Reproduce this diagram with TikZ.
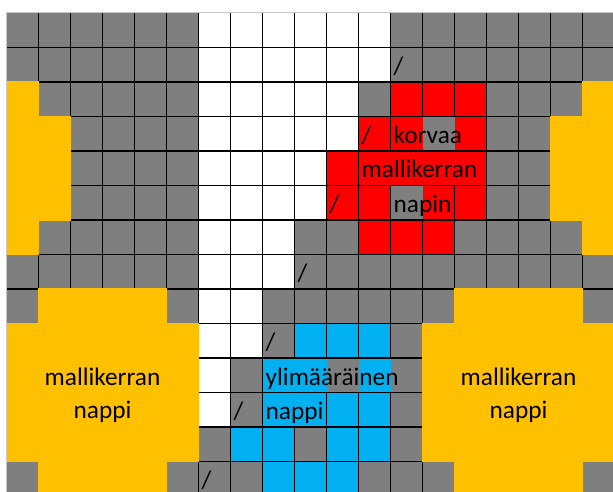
\documentclass[tikz,border=0pt]{standalone}
\usepackage{fontspec}
\newfontfamily\calfont{Carlito}
\definecolor{cG}{HTML}{7F7F7F}
\definecolor{cW}{HTML}{FFFFFF}
\definecolor{cR}{HTML}{FF0000}
\definecolor{cB}{HTML}{00B0F0}
\definecolor{cY}{HTML}{FFC000}
\definecolor{cFrame}{HTML}{C8C8C8}
\tikzset{
  gridline/.style={line width=1.1pt, draw=black},
  celltext/.style={anchor=base west, inner sep=0pt, text=black, font=\calfont\fontsize{25.3}{30}\selectfont},
  blocktext/.style={anchor=base, inner sep=0pt, text=black, font=\calfont\fontsize{25.3}{30}\selectfont},
  yel/.style={fill=cY}
}
\begin{document}
\begin{tikzpicture}[x=1pt,y=-1pt]
\useasboundingbox (0,0) rectangle (613,492);
\clip (0,0) rectangle (613,492);
\fill[white] (0,0) rectangle (613,492);
% cell fills
\foreach \rowcodes [count=\r from 0] in {{G,G,G,G,G,G,W,W,W,W,W,W,G,G,G,G,G,G,G},{G,G,G,G,G,G,W,W,W,W,W,W,G,G,G,G,G,G,G},{Y,G,G,G,G,G,W,W,W,W,W,G,R,R,R,G,G,G,Y},{Y,Y,G,G,G,G,W,W,W,W,W,R,R,G,R,G,G,Y,Y},{Y,Y,G,G,G,G,W,W,W,W,R,R,R,R,R,G,G,Y,Y},{Y,Y,G,G,G,G,W,W,W,W,R,R,G,R,R,G,G,Y,Y},{Y,G,G,G,G,G,W,W,W,G,G,R,R,R,G,G,G,G,Y},{G,G,G,G,G,G,W,W,W,G,G,G,G,G,G,G,G,G,G},{G,Y,Y,Y,Y,G,W,W,G,G,G,G,G,G,Y,Y,Y,Y,G},{Y,Y,Y,Y,Y,Y,W,W,G,B,B,B,G,Y,Y,Y,Y,Y,Y},{Y,Y,Y,Y,Y,Y,W,G,B,B,G,B,G,Y,Y,Y,Y,Y,Y},{Y,Y,Y,Y,Y,Y,W,G,B,B,B,B,G,Y,Y,Y,Y,Y,Y},{Y,Y,Y,Y,Y,Y,G,B,B,G,B,B,G,Y,Y,Y,Y,Y,Y},{G,Y,Y,Y,Y,G,G,G,B,B,B,G,G,G,Y,Y,Y,Y,G}}{
  \foreach \k [count=\c from 0] in \rowcodes {
    \fill[fill=c\k] ({6.5+32*\c},{13+34.5*\r}) rectangle ({38.5+32*\c},{47.5+34.5*\r});
  }
}
% grid lines
\foreach \c in {1,...,18} \draw[gridline] ({6.5+32*\c},13) -- ({6.5+32*\c},497);
\foreach \r in {1,...,13} \draw[gridline] (6.5,{13+34.5*\r}) -- (615,{13+34.5*\r});
% yellow blocks (no borders inside or around)
\fill[yel] (6.5,81.4) rectangle (39.1,255.1);
\fill[yel] (37.9,115.9) rectangle (71.1,220.6);
\fill[yel] (581.9,81.4) rectangle (620,255.1);
\fill[yel] (549.9,115.9) rectangle (583.1,220.6);
\fill[yel] (6.5,322.9) rectangle (199.1,462.1);
\fill[yel] (37.9,288.4) rectangle (167.1,500);
\fill[yel] (421.9,322.9) rectangle (620,462.1);
\fill[yel] (453.9,288.4) rectangle (583.1,500);
% text spans hide inner borders
\fill[cR] (391.05,117.05) rectangle (422.5,150.45);
\fill[cG] (422.5,117.05) rectangle (454.5,150.45);
\fill[cR] (454.5,117.05) rectangle (485.95,150.45);
\fill[cR] (359.05,151.55) rectangle (485.95,184.95);
\fill[cG] (391.05,186.05) rectangle (422.5,219.45);
\fill[cR] (422.5,186.05) rectangle (453.95,219.45);
\fill[cB] (263.05,358.55) rectangle (326.5,391.95);
\fill[cG] (326.5,358.55) rectangle (358.5,391.95);
\fill[cB] (358.5,358.55) rectangle (390.5,391.95);
\fill[cG] (390.5,358.55) rectangle (421.95,391.95);
\fill[cB] (263.05,393.05) rectangle (325.95,426.45);
% frame
\draw[cFrame, line width=1pt] (6.5,493) -- (6.5,13) -- (614,13);
% texts
\node[celltext] (s1) at (393.5,74.5) {/};
\node[celltext] (s2) at (361.5,143.5) {/};
\node[celltext] (korvaa) at (393.5,143.5) {korvaa};
\node[celltext] (malli) at (361.5,178) {mallikerran};
\node[celltext] (s3) at (329.5,212.5) {/};
\node[celltext] (napin) at (393.5,212.5) {napin};
\node[celltext] (s4) at (297.5,281.5) {/};
\node[celltext] (s5) at (265.5,350.5) {/};
\node[celltext] (ylim) at (265.5,385) {ylimääräinen};
\node[celltext] (s6) at (233.5,419.5) {/};
\node[celltext] (nappiB) at (265.5,419.5) {nappi};
\node[celltext] (s7) at (201.5,488.5) {/};
\node[blocktext] (mallL) at (102.5,385.5) {mallikerran};
\node[blocktext] (nappiL) at (102.5,418.3) {nappi};
\node[blocktext] (mallR) at (518.5,385.5) {mallikerran};
\node[blocktext] (nappiR) at (518.5,418.3) {nappi};
\end{tikzpicture}
\end{document}
